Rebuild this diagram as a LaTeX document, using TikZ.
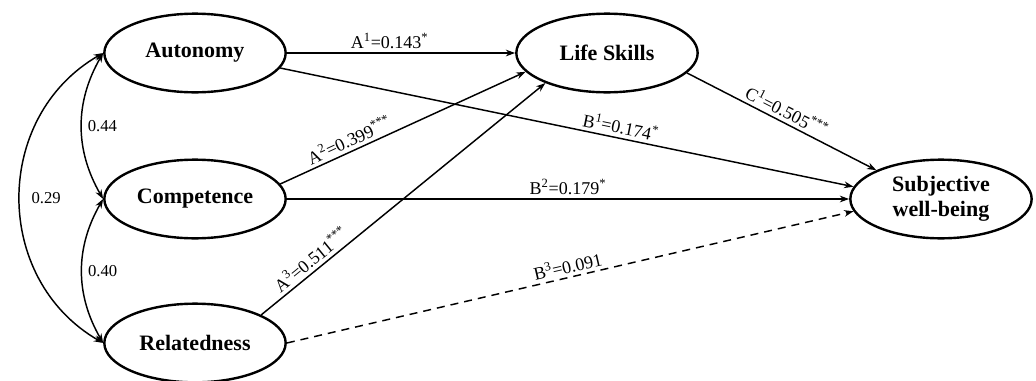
\documentclass[tikz,border=0pt]{standalone}
\usepackage{fontspec}
\setmainfont{Liberation Serif}
\usetikzlibrary{arrows.meta,shapes.geometric}
\tikzset{construct/.style={draw=black,line width=1.8pt,ellipse,minimum width=136pt,minimum height=59pt,inner sep=0pt,align=center,font=\fontsize{16.5}{19}\selectfont\bfseries}}
\tikzset{coef/.style={font=\fontsize{13.5}{15}\selectfont,sloped,above,inner sep=2.5pt}}
\tikzset{corr/.style={font=\fontsize{12.5}{14}\selectfont,right,inner sep=4pt}}
\tikzset{weak/.style={dash pattern=on 6pt off 4.5pt}}

\begin{document}
\begin{tikzpicture}[x=0.75pt,y=0.75pt,->,>={Stealth[length=7pt,width=5pt]},line width=1.1pt]
	\useasboundingbox (0,0) rectangle (1036,380);
	\node[construct] at (195,327) (aut)  {Autonomy};
	\node[construct] at (195,181) (comp) {Competence};
	\node[construct] at (195,37)  (rel)  {Relatedness};
	\node[construct] at (607,327) (life) {Life Skills};
	\node[construct] at (941,181) (swb)  {Subjective\\well-being};
	% paths to life skills
	\path (aut.east) edge node[coef,pos=0.45] {A\textsuperscript{1}=0.143\textsuperscript{*}} (life.west);
	\path (comp.10) edge node[coef,pos=0.3] {A\textsuperscript{2}=0.399\textsuperscript{***}} (life.193);
	\path (rel.23) edge node[coef,pos=0.2] {A\textsuperscript{3}=0.511\textsuperscript{***}} (life.206);
	% paths to well-being
	\path (aut.-10) edge node[coef,pos=0.59] {B\textsuperscript{1}=0.174\textsuperscript{*}} (swb.172);
	\path (comp.east) edge node[coef] {B\textsuperscript{2}=0.179\textsuperscript{*}} (swb.west);
	\path (rel.east) edge[weak] node[coef] {B\textsuperscript{3}=0.091} (swb.188);
	\path (life.-14) edge node[coef] {C\textsuperscript{1}=0.505\textsuperscript{***}} (swb.156);
	% correlations
	\path (aut.west) edge[<->, bend right=30] node[corr] {0.44} (comp.west);
	\path (comp.west) edge[<->, bend right=30] node[corr] {0.40} (rel.west);
	\path (aut.west) edge[<->, out=210, in=150, looseness=1.13] node[corr,xshift=4pt] {0.29} (rel.west);
\end{tikzpicture}
\end{document}
